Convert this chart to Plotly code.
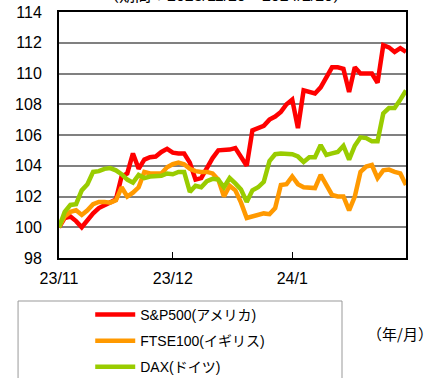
import plotly.graph_objects as go

# trading-day index (0 = 2023/11/29)
days = list(range(62))

sp500 = [100.0, 100.6, 100.7, 100.4, 100.0, 100.5, 100.9, 101.25, 101.45, 101.6,
         101.8, 103.3, 103.5, 104.8, 103.8, 104.4, 104.55, 104.6, 104.9, 105.1,
         104.85, 104.8, 104.8, 104.2, 103.1, 103.2, 103.9, 104.5, 105.0, 105.0,
         105.05, 105.15, 104.6, 104.0, 106.3, 106.45, 106.6, 107.0, 107.2, 107.5,
         108.0, 108.3, 106.45, 108.9, 108.8, 108.7, 109.1, 109.7, 110.4, 110.4,
         110.3, 108.8, 110.4, 110.0, 110.0, 110.0, 109.4, 111.85, 111.7, 111.4,
         111.65, 111.4]

ftse100 = [100.0, 100.7, 101.0, 101.1, 100.8, 101.1, 101.5, 101.65, 101.65, 101.6,
           101.75, 102.6, 102.0, 102.25, 102.6, 103.6, 103.5, 103.5, 103.5, 103.9,
           104.1, 104.2, 104.1, 103.8, 103.65, 103.6, 103.6, 103.5, 103.1, 102.0,
           102.7, 102.4, 101.6, 100.6, 100.7, 100.8, 100.9, 100.85, 101.25, 102.75,
           102.8, 103.3, 102.8, 102.6, 102.55, 102.55, 103.4, 102.7, 102.1, 102.0,
           102.0, 101.1, 102.0, 103.6, 103.95, 104.05, 103.2, 103.7, 103.75, 103.6,
           103.5, 102.75]

dax = [100.0, 101.0, 101.45, 101.5, 102.4, 102.8, 103.6, 103.65, 103.8, 103.85,
       103.7, 103.45, 103.1, 102.9, 103.4, 103.2, 103.3, 103.3, 103.35, 103.5,
       103.45, 103.6, 103.6, 102.3, 102.7, 102.6, 103.0, 103.15, 103.1, 102.6,
       103.2, 102.85, 102.45, 101.65, 102.4, 102.6, 102.95, 104.3, 104.75, 104.8,
       104.8, 104.75, 104.6, 104.25, 104.55, 104.55, 105.35, 104.7, 104.8, 104.9,
       105.3, 104.4, 105.3, 105.85, 105.8, 105.6, 105.6, 107.4, 107.75, 107.75,
       108.3, 108.9]

series_names = ["S&P500(アメリカ)", "FTSE100(イギリス)", "DAX(ドイツ)"]
series_colors = ["#ff0000", "#ff9900", "#99cc00"]
tick_positions = [0, 20, 41]
tick_labels = ["23/11", "23/12", "24/1"]
title_text = "（期間：2023/11/29～2024/2/29）"
unit_text = "（年/月）"

FONT = "Liberation Sans, Arial, Noto Sans CJK JP, sans-serif"
CJK = "Noto Sans CJK JP, sans-serif"

fig = go.Figure()
for i, (vals, name, col) in enumerate(zip([sp500, ftse100, dax], series_names, series_colors)):
    fig.add_trace(go.Scatter(
        x=days, y=vals, mode="lines", name=name,
        line=dict(color=col, width=4.5),
        legendgroup=f"g{i}",
    ))

fig.update_layout(
    width=441, height=378,
    margin=dict(l=59, r=35, t=12, b=120, autoexpand=False),
    paper_bgcolor="white", plot_bgcolor="white",
    font=dict(family=FONT, color="black", size=16),
    showlegend=True,
    legend=dict(
        x=0.09, y=-0.166, xanchor="left", yanchor="top",
        bgcolor="rgba(0,0,0,0)", borderwidth=0,
        font=dict(size=14, family=FONT),
        tracegroupgap=5, itemwidth=40,
    ),
    xaxis=dict(
        range=[0, 61], showgrid=False, zeroline=False,
        tickmode="array", tickvals=tick_positions, ticktext=tick_labels,
        ticks="inside", ticklen=6, tickwidth=1, tickcolor="black",
        showline=True, linecolor="black", linewidth=2, mirror=True,
        ticklabelstandoff=5,
        tickfont=dict(size=16),
    ),
    yaxis=dict(
        range=[98, 114], dtick=2, tick0=98,
        showgrid=True, gridcolor="#808080", gridwidth=1.6,
        zeroline=False, ticks="",
        showline=True, linecolor="black", linewidth=2, mirror=True,
        ticklabelstandoff=12,
        tickfont=dict(size=16),
    ),
)

# legend frame
fig.add_shape(type="rect", xref="paper", yref="paper",
              x0=-0.118, x1=0.8156, y0=-0.7, y1=-0.1748,
              line=dict(color="#999999", width=1), fillcolor="rgba(0,0,0,0)")

fig.add_annotation(text=unit_text, xref="paper", yref="paper",
                   x=0.983, y=-0.305, xanchor="center", yanchor="middle",
                   showarrow=False, font=dict(size=15, family=CJK))

fig.add_annotation(text=title_text, xref="paper", yref="paper",
                   x=0.48, y=1.0, xanchor="center", yanchor="bottom", yshift=6,
                   showarrow=False, font=dict(size=16, family=FONT))

fig.write_html("out.html")
